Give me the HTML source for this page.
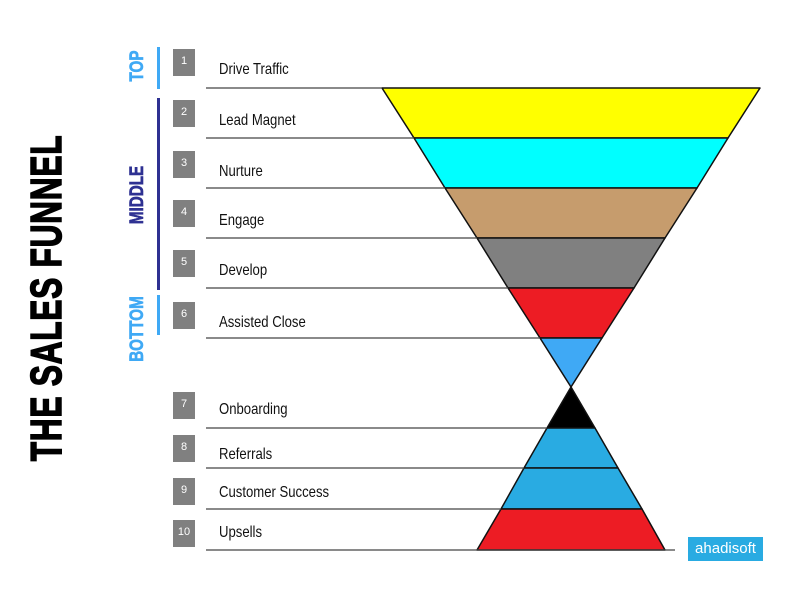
<!DOCTYPE html>
<html><head><style>
body{margin:0;width:800px;height:600px;background:#fff;position:relative;overflow:hidden;font-family:"Liberation Sans",sans-serif}
.n{position:absolute;left:173px;width:22px;height:27px;background:#808080;color:#fff;font-size:11px;text-align:center;line-height:24px}
.t{position:absolute;left:219px;font-size:16px;color:#111;transform:scaleX(0.82);transform-origin:left;white-space:nowrap}
.v{position:absolute;transform:translate(-50%,-50%) rotate(-90deg);font-weight:bold;white-space:nowrap}
.bar{position:absolute;left:157px;width:3px}
</style></head><body>
<div class="v" style="left:47px;top:298px;font-size:44px;color:#000;letter-spacing:1px;-webkit-text-stroke:1.5px #000"><span style="display:inline-block;transform:scaleX(0.72)">THE SALES FUNNEL</span></div>
<div class="v" style="left:138px;top:66px;font-size:19px;color:#3fa9f5;-webkit-text-stroke:0.6px #3fa9f5"><span style="display:inline-block;transform:scaleX(0.8)">TOP</span></div>
<div class="v" style="left:138px;top:195px;font-size:19px;color:#2e3192;-webkit-text-stroke:0.6px #2e3192"><span style="display:inline-block;transform:scaleX(0.8)">MIDDLE</span></div>
<div class="v" style="left:138px;top:329px;font-size:19px;color:#3fa9f5;-webkit-text-stroke:0.6px #3fa9f5"><span style="display:inline-block;transform:scaleX(0.8)">BOTTOM</span></div>
<div class="bar" style="top:47px;height:42px;background:#3fa9f5"></div>
<div class="bar" style="top:98px;height:192px;background:#2e3192"></div>
<div class="bar" style="top:295px;height:40px;background:#3fa9f5"></div>
<svg width="800" height="600" style="position:absolute;left:0;top:0">
<g stroke="#111" stroke-width="1.5" stroke-linejoin="round">
<polygon points="382,88 760,88 728,138 414,138" fill="#ffff00"/>
<polygon points="414,138 728,138 697,188 445,188" fill="#00ffff"/>
<polygon points="445,188 697,188 665,238 477,238" fill="#c69c6d"/>
<polygon points="477,238 665,238 634,288 508,288" fill="#808080"/>
<polygon points="508,288 634,288 602,338 540,338" fill="#ed1c24"/>
<polygon points="540,338 602,338 571,387" fill="#3fa9f5"/>
<polygon points="571,387 595,428 547,428" fill="#000"/>
<polygon points="547,428 595,428 618,468 524,468" fill="#29abe2"/>
<polygon points="524,468 618,468 642,509 501,509" fill="#29abe2"/>
<polygon points="501,509 642,509 665,550 477,550" fill="#ed1c24"/>
</g>
<g stroke="#444" stroke-width="1.2">
<line x1="206" y1="88" x2="382" y2="88"/>
<line x1="206" y1="138" x2="414" y2="138"/>
<line x1="206" y1="188" x2="445" y2="188"/>
<line x1="206" y1="238" x2="477" y2="238"/>
<line x1="206" y1="288" x2="508" y2="288"/>
<line x1="206" y1="338" x2="540" y2="338"/>
<line x1="206" y1="428" x2="547" y2="428"/>
<line x1="206" y1="468" x2="524" y2="468"/>
<line x1="206" y1="509" x2="501" y2="509"/>
<line x1="206" y1="550" x2="675" y2="550"/>
</g>
</svg>
<div class="n" style="top:49px">1</div><div class="t" style="top:61px">Drive Traffic</div>
<div class="n" style="top:100px">2</div><div class="t" style="top:112px">Lead Magnet</div>
<div class="n" style="top:151px">3</div><div class="t" style="top:163px">Nurture</div>
<div class="n" style="top:200px">4</div><div class="t" style="top:212px">Engage</div>
<div class="n" style="top:250px">5</div><div class="t" style="top:262px">Develop</div>
<div class="n" style="top:302px">6</div><div class="t" style="top:314px">Assisted Close</div>
<div class="n" style="top:392px">7</div><div class="t" style="top:401px">Onboarding</div>
<div class="n" style="top:435px">8</div><div class="t" style="top:446px">Referrals</div>
<div class="n" style="top:478px">9</div><div class="t" style="top:484px">Customer Success</div>
<div class="n" style="top:520px">10</div><div class="t" style="top:524px">Upsells</div>
<div style="position:absolute;left:688px;top:537px;width:75px;height:24px;background:#29abe2;color:#fff;font-size:15px;line-height:24px;text-align:center">ahadisoft</div>
</body></html>
